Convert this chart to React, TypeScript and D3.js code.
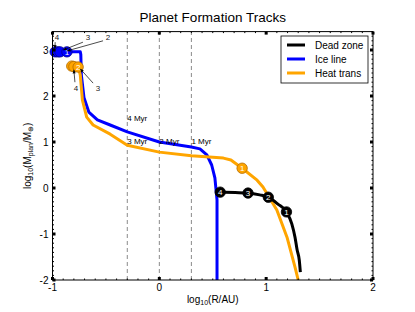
import React from "react";
import * as d3 from "d3";

const W = 415, H = 312;
const xDomain: [number, number] = [-1, 2];
const yDomain: [number, number] = [-2, 3.4];
const xTicks = [-1, 0, 1, 2];
const yTicks = [-2, -1, 0, 1, 2, 3];

const iceX = [-0.99, -0.74, -0.735, -0.73, -0.705, -0.66, -0.58, -0.46, -0.30, 0.0, 0.30, 0.38, 0.445, 0.49, 0.52, 0.54, 0.54];
const iceY = [2.96, 2.96, 2.9, 2.46, 1.96, 1.65, 1.48, 1.37, 1.22, 1.0, 0.89, 0.85, 0.72, 0.50, 0.22, -0.26, -2.0];

const heatX = [-0.82, -0.76, -0.74, -0.72, -0.68, -0.62, -0.46, -0.30, 0.0, 0.30, 0.60, 0.67, 0.775, 0.915, 0.97, 1.10, 1.195, 1.27, 1.30];
const heatY = [2.65, 2.63, 2.46, 1.91, 1.54, 1.37, 1.17, 0.93, 0.78, 0.70, 0.65, 0.61, 0.43, 0.17, 0.02, -0.48, -1.07, -1.72, -2.0];

const deadX = [0.555, 0.71, 0.83, 0.94, 1.02, 1.11, 1.19, 1.24, 1.27, 1.29, 1.31, 1.32];
const deadY = [-0.09, -0.10, -0.11, -0.15, -0.20, -0.35, -0.52, -0.78, -1.07, -1.35, -1.57, -1.83];

// markers listed in drawing order (last drawn on top)
const deadMarkX = [1.19, 1.02, 0.83, 0.57];
const deadMarkY = [-0.52, -0.20, -0.11, -0.09];
const deadMarkLab = ["1", "2", "3", "4"];
const deadMarkShow = [true, true, true, true];

const heatMarkX = [-0.82, -0.80, -0.76, 0.775];
const heatMarkY = [2.65, 2.64, 2.63, 0.43];
const heatMarkLab = ["4", "3", "2", "1"];
const heatMarkShow = [false, false, true, true];

const iceMarkX = [-0.975, -0.95, -0.93, -0.865];
const iceMarkY = [2.96, 2.96, 2.96, 2.96];
const iceMarkLab = ["4", "3", "2", "1"];
const iceMarkShow = [false, false, false, true];

const myrX = [-0.3, -0.3, 0.0, 0.3];
const myrY = [1.52, 1.02, 1.02, 1.02];
const myrLab = ["4 Myr", "3 Myr", "2 Myr", "1 Myr"];
const dashX = [-0.3, 0.0, 0.3];

// annotations: label position, line start, arrow tip (data coordinates)
const annLab = ["4", "3", "2", "4", "3"];
const annLx = [-0.958, -0.668, -0.48, -0.78, -0.574];
const annLy = [3.27, 3.27, 3.27, 2.16, 2.16];
const annSx = [-0.975, -0.715, -0.527, -0.79, -0.62];
const annSy = [3.17, 3.17, 3.2, 2.3, 2.28];
const annTx = [-0.977, -0.90, -0.864, -0.80, -0.74];
const annTy = [3.03, 3.0, 2.98, 2.57, 2.59];

const seriesNames = ["Dead zone", "Ice line", "Heat trans"];
const seriesColors = ["#000000", "#0000ff", "#ffa500"];
const markerEdge = ["#000000", "#00008b", "#b36b00"];

const FONT = "'Liberation Sans', Arial, Helvetica, sans-serif";

export default function App() {
  const x = d3.scaleLinear().domain(xDomain).range([52.5, 373]);
  const y = d3.scaleLinear().domain(yDomain).range([280, 31.6]);
  const line = d3.line<[number, number]>().x(d => x(d[0])).y(d => y(d[1])).curve(d3.curveMonotoneX);
  const lineV = d3.line<[number, number]>().x(d => x(d[0])).y(d => y(d[1])).curve(d3.curveLinear);

  const zip = (a: number[], b: number[]) => a.map((v, i) => [v, b[i]] as [number, number]);
  const [x0, x1] = x.range();
  const [y0, y1] = y.range();

  const xMinor = d3.range(-10, 21).map(i => i / 10);
  const yMinor = d3.range(-20, 35).map(i => i / 10);

  const markers = (mx: number[], my: number[], lab: string[], show: boolean[], k: number) =>
    mx.map((v, i) => (
      <g key={`m${k}-${i}`}>
        <circle cx={x(v)} cy={y(my[i])} r={5.2} fill={seriesColors[k]} stroke={markerEdge[k]} strokeWidth={0.8} />
        {show[i] && (
          <text x={x(v)} y={y(my[i]) + 3} fontSize={8} fill="#fff" textAnchor="middle" fontFamily={FONT}>{lab[i]}</text>
        )}
      </g>
    ));

  return (
    <svg width={W} height={H} style={{ position: "absolute", left: 0, top: 0 }} fontFamily={FONT}>
      <defs>
        <clipPath id="clip"><rect x={x0} y={y1} width={x1 - x0} height={y0 - y1} /></clipPath>
      </defs>
      <rect x={0} y={0} width={W} height={H} fill="#fff" />
      {/* dashed lines */}
      {dashX.map((d, i) => (
        <line key={`d${i}`} x1={x(d)} x2={x(d)} y1={y0} y2={y1} stroke="#8a8a8a" strokeWidth={1} strokeDasharray="4,3" />
      ))}
      <g clipPath="url(#clip)">
        <path d={lineV(zip(iceX, iceY)) || ""} fill="none" stroke={seriesColors[1]} strokeWidth={3} strokeLinejoin="round" />
        <path d={lineV(zip(heatX, heatY)) || ""} fill="none" stroke={seriesColors[2]} strokeWidth={3} strokeLinejoin="round" />
        <path d={line(zip(deadX, deadY)) || ""} fill="none" stroke={seriesColors[0]} strokeWidth={3} strokeLinejoin="round" />
      </g>
      {myrLab.map((t, i) => (
        <text key={`myr${i}`} x={x(myrX[i])} y={y(myrY[i])} dy="0.35em" fontSize={8} fill="#000">{t}</text>
      ))}
      {markers(iceMarkX, iceMarkY, iceMarkLab, iceMarkShow, 1)}
      {markers(heatMarkX, heatMarkY, heatMarkLab, heatMarkShow, 2)}
      {markers(deadMarkX, deadMarkY, deadMarkLab, deadMarkShow, 0)}
      {/* annotations */}
      {annLab.map((t, i) => {
        const sx = x(annSx[i]), sy = y(annSy[i]), tx = x(annTx[i]), ty = y(annTy[i]);
        const ang = Math.atan2(ty - sy, tx - sx);
        const a = 3.5, w = 1.6;
        const p1 = [tx - a * Math.cos(ang) + w * Math.sin(ang), ty - a * Math.sin(ang) - w * Math.cos(ang)];
        const p2 = [tx - a * Math.cos(ang) - w * Math.sin(ang), ty - a * Math.sin(ang) + w * Math.cos(ang)];
        return (
          <g key={`a${i}`}>
            <line x1={sx} y1={sy} x2={tx} y2={ty} stroke="#000" strokeWidth={0.7} />
            <polygon points={`${tx},${ty} ${p1[0]},${p1[1]} ${p2[0]},${p2[1]}`} fill="#000" />
            <text x={x(annLx[i])} y={y(annLy[i])} dy="0.35em" fontSize={8} textAnchor="middle" fill="#222">{t}</text>
          </g>
        );
      })}
      {/* axes box */}
      <rect x={x0} y={y1} width={x1 - x0} height={y0 - y1} fill="none" stroke="#000" strokeWidth={1} />
      {xMinor.map((v, i) => (
        <g key={`xm${i}`}>
          <line x1={x(v)} x2={x(v)} y1={y0} y2={y0 - 1.5} stroke="#000" strokeWidth={1} />
          <line x1={x(v)} x2={x(v)} y1={y1} y2={y1 + 1.5} stroke="#000" strokeWidth={1} />
        </g>
      ))}
      {yMinor.map((v, i) => (
        <g key={`ym${i}`}>
          <line x1={x0} x2={x0 + 1.5} y1={y(v)} y2={y(v)} stroke="#000" strokeWidth={1} />
          <line x1={x1} x2={x1 - 1.5} y1={y(v)} y2={y(v)} stroke="#000" strokeWidth={1} />
        </g>
      ))}
      {xTicks.map((v, i) => (
        <g key={`xt${i}`}>
          <rect x={x(v) - 1.5} y={y0 - 3} width={3} height={3} fill="#000" />
          <rect x={x(v) - 1.5} y={y1} width={3} height={3} fill="#000" />
          <text x={x(v)} y={y0 + 11} fontSize={10} textAnchor="middle" fill="#000">{v}</text>
        </g>
      ))}
      {yTicks.map((v, i) => (
        <g key={`yt${i}`}>
          <rect x={x0} y={y(v) - 1.5} width={3} height={3} fill="#000" />
          <rect x={x1 - 3} y={y(v) - 1.5} width={3} height={3} fill="#000" />
          <text x={x0 - 4} y={y(v)} dy="0.35em" fontSize={10} textAnchor="end" fill="#000">{v}</text>
        </g>
      ))}
      {/* title and labels */}
      <text x={(x0 + x1) / 2} y={22} fontSize={13.5} textAnchor="middle" fill="#000">Planet Formation Tracks</text>
      <text x={(x0 + x1) / 2} y={303} fontSize={10} textAnchor="middle" fill="#000">
        log<tspan fontSize={7} dy={2}>10</tspan><tspan dy={-2}>(R/AU)</tspan>
      </text>
      <text transform={`translate(31,${(y0 + y1) / 2}) rotate(-90)`} fontSize={10} textAnchor="middle" fill="#000">
        log<tspan fontSize={7} dy={2}>10</tspan><tspan dy={-2}>(M</tspan><tspan fontSize={7} dy={2}>plan</tspan><tspan dy={-2}>/M</tspan><tspan fontSize={7} dy={2}>⊕</tspan><tspan dy={-2}>)</tspan>
      </text>
      {/* legend */}
      <g>
        <rect x={281} y={36} width={87} height={47} fill="#fff" stroke="#000" strokeWidth={0.8} />
        {seriesNames.map((n, i) => (
          <g key={`l${i}`}>
            <line x1={287} x2={305} y1={45 + i * 14} y2={45 + i * 14} stroke={seriesColors[i]} strokeWidth={3} />
            <text x={315} y={45 + i * 14} dy="0.35em" fontSize={10} fill="#000">{n}</text>
          </g>
        ))}
      </g>
    </svg>
  );
}
